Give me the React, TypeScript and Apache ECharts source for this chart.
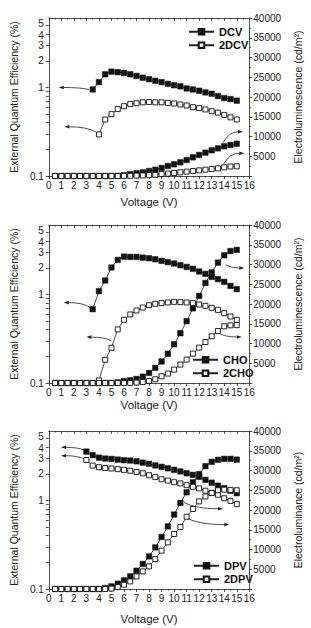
import React, { useEffect, useRef } from "react";
import * as echarts from "echarts";

// Voltage steps (V) shared by all devices
const VOLTAGES = [0.5, 1, 1.5, 2, 2.5, 3, 3.5, 4, 4.5, 5, 5.5, 6, 6.5, 7, 7.5, 8, 8.5, 9, 9.5, 10, 10.5, 11, 11.5, 12, 12.5, 13, 13.5, 14, 14.5, 15];
const V_FROM_3 = VOLTAGES.slice(5);
const V_FROM_3_5 = VOLTAGES.slice(6);
const V_FROM_4 = VOLTAGES.slice(7);

// External quantum efficiency (%)
const DCV_EQE = [0.95, 1.15, 1.41, 1.51, 1.49, 1.46, 1.41, 1.35, 1.29, 1.24, 1.19, 1.15, 1.10, 1.06, 1.03, 0.975, 0.95, 0.92, 0.88, 0.85, 0.80, 0.76, 0.74, 0.71];
const DCV2_EQE = [0.295, 0.435, 0.50, 0.57, 0.615, 0.65, 0.665, 0.68, 0.685, 0.68, 0.68, 0.67, 0.66, 0.643, 0.626, 0.60, 0.585, 0.565, 0.54, 0.52, 0.49, 0.46, 0.435];
const CHO_EQE = [0.683, 1.09, 1.44, 2.02, 2.46, 2.68, 2.66, 2.66, 2.61, 2.57, 2.50, 2.40, 2.32, 2.24, 2.14, 2.05, 1.95, 1.82, 1.71, 1.58, 1.49, 1.39, 1.25, 1.15];
const CHO2_EQE = [0.107, 0.183, 0.25, 0.403, 0.518, 0.595, 0.66, 0.713, 0.758, 0.785, 0.80, 0.813, 0.826, 0.82, 0.813, 0.80, 0.77, 0.745, 0.707, 0.67, 0.615, 0.565, 0.518];
const DPV_EQE = [3.57, 3.25, 3.05, 2.98, 2.95, 2.90, 2.85, 2.83, 2.77, 2.68, 2.60, 2.49, 2.40, 2.31, 2.22, 2.13, 2.03, 1.95, 1.85, 1.71, 1.59, 1.47, 1.38, 1.29, 1.21];
const DPV2_EQE = [2.87, 2.48, 2.38, 2.33, 2.30, 2.26, 2.22, 2.17, 2.10, 2.03, 1.93, 1.84, 1.74, 1.68, 1.61, 1.56, 1.49, 1.43, 1.37, 1.29, 1.22, 1.16, 1.06, 0.99, 0.91];

// Luminance (cd/m²), 0.5 V to 15 V
const DCV_LUM = [0, 0, 0, 0, 0, 0, 0, 0, 0, 10, 60, 200, 430, 680, 940, 1270, 1600, 2030, 2530, 2960, 3470, 4050, 4730, 5320, 5900, 6500, 7000, 7520, 7850, 8180];
const DCV2_LUM = [0, 0, 0, 0, 0, 0, 0, 0, 0, 0, 0, 20, 50, 100, 150, 220, 300, 500, 600, 760, 940, 1100, 1270, 1430, 1600, 1770, 1940, 2190, 2400, 2450];
const CHO_LUM = [0, 0, 0, 0, 0, 0, 0, 0, 0, 30, 150, 500, 680, 1015, 1600, 2540, 3850, 5450, 7400, 9800, 12600, 15650, 18900, 22050, 25330, 28000, 30480, 32330, 33400, 33700];
const CHO2_LUM = [0, 0, 0, 0, 0, 0, 0, 0, 0, 0, 0, 0, 30, 100, 250, 500, 940, 1700, 2380, 3390, 4660, 5920, 7440, 8960, 10380, 11820, 13160, 14350, 14600, 14650];
const DPV_LUM = [0, 0, 0, 0, 0, 0, 0, 0, 250, 660, 1340, 2180, 3190, 4630, 6330, 8250, 10530, 13160, 15850, 18850, 21800, 24480, 27000, 29100, 31100, 32200, 32700, 32950, 32950, 32750];
const DPV2_LUM = [0, 0, 0, 0, 0, 0, 0, 0, 0, 100, 510, 1090, 1920, 3190, 4460, 5720, 7590, 9700, 11800, 13920, 15700, 18300, 20250, 22180, 23440, 24300, 25000, 25150, 25100, 25000];

// Axis ticks and labels; "4" and "5" sit on their own label-only axes,
// nudged apart by a couple of pixels so the close pair stays readable
const EQE_LABELS = [0.1, 1, 2, 3];
const EQE_NUDGED_LABELS: [number, number][] = [
  [4, -1.5],
  [5, 2],
];
const EQE_TICKS = [0.1, 0.2, 0.3, 0.4, 0.5, 0.6, 0.7, 0.8, 0.9, 1, 2, 3, 4, 5];
const EQE_TOP = 6.1;
const LUM_MAX = 40000;
const LUM_STEP = 5000;
const V_MAX = 16;

const DEVICES = [
  [
    { name: "DCV", filled: true, eqeV: V_FROM_3_5, eqe: DCV_EQE, lum: DCV_LUM },
    { name: "2DCV", filled: false, eqeV: V_FROM_4, eqe: DCV2_EQE, lum: DCV2_LUM },
  ],
  [
    { name: "CHO", filled: true, eqeV: V_FROM_3_5, eqe: CHO_EQE, lum: CHO_LUM },
    { name: "2CHO", filled: false, eqeV: V_FROM_4, eqe: CHO2_EQE, lum: CHO2_LUM },
  ],
  [
    { name: "DPV", filled: true, eqeV: V_FROM_3, eqe: DPV_EQE, lum: DPV_LUM },
    { name: "2DPV", filled: false, eqeV: V_FROM_3, eqe: DPV2_EQE, lum: DPV2_LUM },
  ],
];

const RIGHT_NAMES = ["Electroluminescence (cd/m²)", "Electroluminescence (cd/m²)", "Electroluminance (cd/m²)"];

// Panel placement
const PANEL_LAYOUT = [
  { top: 18, height: 158, legendLeft: 188, legendTop: 25, xNameGap: 20 },
  { top: 225, height: 158, legendLeft: 192, legendTop: 353, xNameGap: 16 },
  { top: 431, height: 158, legendLeft: 193, legendTop: 559, xNameGap: 24 },
];

// Pointer arrows: [panel, axis, from [V, value], to [V, value]]
const ARROWS: [number, "eqe" | "lum", [number, number], [number, number]][] = [
  [0, "eqe", [3.2, 0.95], [0.8, 1.0]],
  [0, "eqe", [3.75, 0.315], [1.25, 0.36]],
  [0, "lum", [13.9, 8400], [15.5, 11200]],
  [0, "lum", [13.95, 3050], [15.6, 5750]],
  [1, "eqe", [3.35, 0.71], [1.2, 0.81]],
  [1, "eqe", [5.0, 0.3], [3.0, 0.33]],
  [1, "lum", [14.1, 29900], [15.6, 29100]],
  [1, "lum", [13.5, 12700], [15.4, 11650]],
  [2, "eqe", [2.83, 3.72], [0.97, 3.99]],
  [2, "eqe", [2.9, 2.92], [0.97, 3.21]],
  [2, "lum", [10.78, 21900], [13.9, 20300]],
  [2, "lum", [11.03, 17900], [14.4, 16300]],
];

const FONT = "Arial, 'Liberation Sans', Helvetica, sans-serif";
const INK = "#222";

export default function App() {
  const ref = useRef<HTMLDivElement>(null);

  useEffect(() => {
    if (!ref.current) return;
    const chart = echarts.init(ref.current, null, { renderer: "svg" });
    const line = { color: INK, width: 0.8 };

    const grid: any[] = [];
    const xAxis: any[] = [];
    const yAxis: any[] = [];
    const extraAxes: any[] = [];
    const series: any[] = [];
    const legend: any[] = [];

    const logMin = -1;
    const logMax = Math.log10(EQE_TOP);
    const eqeText = (v: number) => {
      const n = Math.pow(10, v);
      return n < 0.5 ? "0.1" : String(Math.round(n));
    };
    const tickLabel = {
      margin: 5, fontSize: 10, fontFamily: FONT, color: INK,
      showMaxLabel: true, showMinLabel: true, hideOverlap: false,
    };

    PANEL_LAYOUT.forEach((p, i) => {
      grid.push({ left: 40, width: 215, top: p.top, height: p.height });

      xAxis.push({
        type: "value", gridIndex: i, min: 0, max: V_MAX, interval: 1, position: "bottom",
        name: "Voltage (V)", nameLocation: "middle", nameGap: p.xNameGap,
        nameTextStyle: { fontSize: 11.5, fontFamily: FONT, color: INK },
        axisLine: { show: true, onZero: false, lineStyle: line },
        axisTick: { show: true, length: 3, lineStyle: line },
        minorTick: { show: true, splitNumber: 2, length: 1.5, lineStyle: line },
        axisLabel: { ...tickLabel, margin: 4 },
        splitLine: { show: false },
      });
      xAxis.push({
        type: "value", gridIndex: i, min: 0, max: V_MAX, interval: 1, position: "top",
        axisLine: { show: true, onZero: false, lineStyle: line },
        axisTick: { show: true, inside: true, length: 3, lineStyle: line },
        minorTick: { show: true, splitNumber: 2, length: 1.5, lineStyle: line },
        axisLabel: { show: false },
        splitLine: { show: false },
      });

      yAxis.push({
        type: "value", gridIndex: i, min: logMin, max: logMax, position: "left",
        name: "External Quantum Efficiency (%)", nameLocation: "middle", nameGap: 23, nameRotate: 90,
        nameTextStyle: { fontSize: 10.5, fontFamily: FONT, color: INK },
        axisLine: { show: true, onZero: false, lineStyle: line },
        axisTick: { show: true, length: 3, lineStyle: line, customValues: EQE_TICKS.map((v) => Math.log10(v)) },
        axisLabel: { ...tickLabel, customValues: EQE_LABELS.map((v) => Math.log10(v)), formatter: eqeText },
        splitLine: { show: false },
      });
      yAxis.push({
        type: "value", gridIndex: i, min: 0, max: LUM_MAX, interval: LUM_STEP, position: "right",
        name: RIGHT_NAMES[i], nameLocation: "middle", nameGap: 42, nameRotate: 90,
        nameTextStyle: { fontSize: 10.5, fontFamily: FONT, color: INK },
        axisLine: { show: true, onZero: false, lineStyle: line },
        axisTick: { show: true, length: 3, lineStyle: line },
        minorTick: { show: true, splitNumber: 2, length: 1.5, lineStyle: line },
        axisLabel: { ...tickLabel, margin: 4, formatter: (v: number) => (v === 0 ? "" : String(v)) },
        splitLine: { show: false },
      });

      // label-only axes for the nudged labels
      const pxPerDecade = p.height / (logMax - logMin);
      EQE_NUDGED_LABELS.forEach(([value, upPx]) => {
        const shift = upPx / pxPerDecade;
        extraAxes.push({
          type: "value", gridIndex: i, min: logMin - shift, max: logMax - shift, position: "left", offset: 0,
          axisLine: { show: false }, axisTick: { show: false }, splitLine: { show: false },
          axisLabel: { ...tickLabel, customValues: [Math.log10(value)], formatter: eqeText },
        });
      });

      const devs = DEVICES[i];
      const styleOf = (filled: boolean) =>
        filled
          ? { color: "#111", borderColor: "#111", borderWidth: 0.5 }
          : { color: "#fff", borderColor: "#111", borderWidth: 0.9 };
      const mk = (d: any, yIdx: number, data: number[][]) => ({
        type: "line", name: d.name, xAxisIndex: 2 * i, yAxisIndex: yIdx,
        data, symbol: "rect", symbolSize: d.filled ? 5.5 : 5,
        showSymbol: true, lineStyle: { color: INK, width: 0.8 },
        itemStyle: styleOf(d.filled), z: d.filled ? 3 : 4,
      });
      devs.forEach((d) => {
        series.push(mk(d, 2 * i, d.eqeV.map((v: number, k: number) => [v, Math.log10(d.eqe[k])])));
      });
      devs.forEach((d) => {
        series.push(mk(d, 2 * i + 1, VOLTAGES.map((v, k) => [v, d.lum[k]])));
      });

      legend.push({
        orient: "vertical", left: p.legendLeft, top: p.legendTop, padding: 0, itemGap: 0,
        itemWidth: 25, itemHeight: 7, selectedMode: false,
        data: devs.map((d) => d.name),
        textStyle: { fontSize: 11, fontWeight: "bold", fontFamily: FONT, color: "#111", lineHeight: 13.5 },
      });
    });

    chart.setOption({
      animation: false,
      backgroundColor: "#fff",
      grid, xAxis, yAxis: yAxis.concat(extraAxes), series, legend,
    });

    // Curved pointer arrows from each curve to its axis
    const elements: any[] = [];
    ARROWS.forEach(([panel, axis, from, to]) => {
      const yIdx = axis === "eqe" ? 2 * panel : 2 * panel + 1;
      const conv = (pt: [number, number]) =>
        chart.convertToPixel({ xAxisIndex: 2 * panel, yAxisIndex: yIdx } as any, [
          pt[0],
          axis === "eqe" ? Math.log10(pt[1]) : pt[1],
        ]) as number[];
      const a = conv(from);
      const b = conv(to);
      if (!a || !b) return;
      const cpx = a[0] + 0.3 * (b[0] - a[0]);
      const cpy = b[1];
      let dx = b[0] - cpx;
      let dy = b[1] - cpy;
      const len = Math.hypot(dx, dy) || 1;
      dx /= len;
      dy /= len;
      const hl = 5;
      const hw = 1.8;
      const bx = b[0] - dx * hl;
      const by = b[1] - dy * hl;
      elements.push({
        type: "bezierCurve", silent: true,
        shape: { x1: a[0], y1: a[1], x2: bx, y2: by, cpx1: cpx, cpy1: cpy },
        style: { stroke: INK, lineWidth: 0.8, fill: "none" },
      });
      elements.push({
        type: "polygon", silent: true,
        shape: { points: [[b[0], b[1]], [bx - dy * hw, by + dx * hw], [bx + dy * hw, by - dx * hw]] },
        style: { fill: INK },
      });
    });
    chart.setOption({ graphic: { elements } });

    return () => chart.dispose();
  }, []);

  return (
    <div
      ref={ref}
      style={{ position: "fixed", left: 0, top: 0, width: 311, height: 628, background: "#fff" }}
    />
  );
}
